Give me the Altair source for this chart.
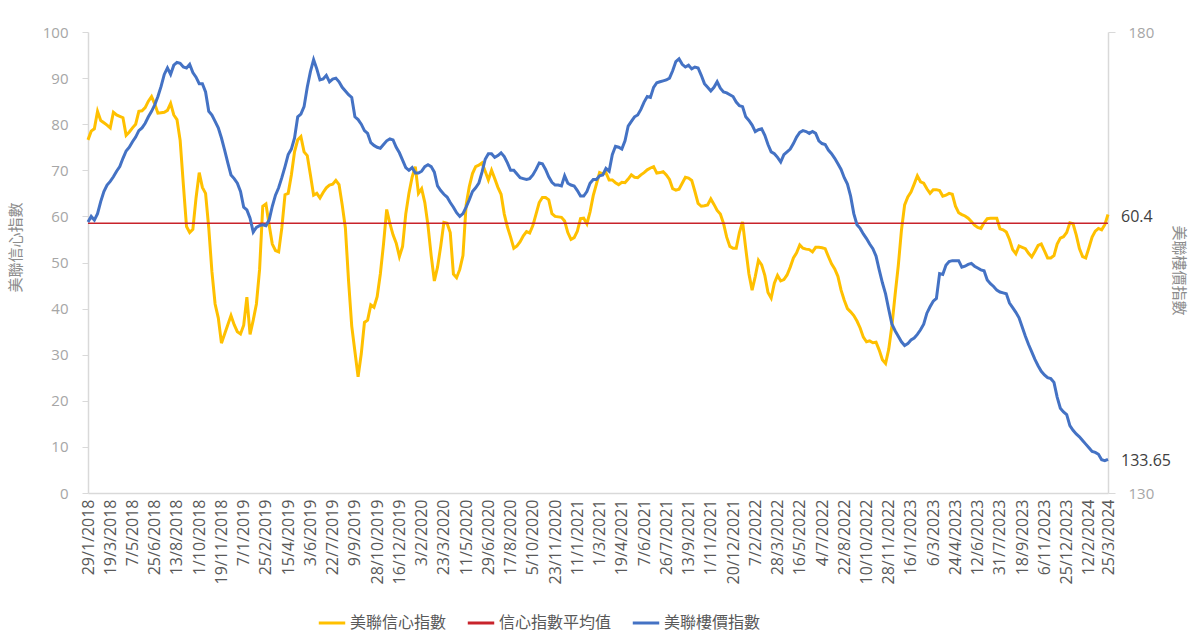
import altair as alt
import pandas as pd

FONT = "Open Sans, Noto Sans CJK TC, sans-serif"

# ---------------- data ----------------
START_DATE = "2018-01-29"  # weekly series

SERIES = ["美聯信心指數", "信心指數平均值", "美聯樓價指數"]
COLORS = ["#FFC000", "#C8232B", "#4472C4"]

AVG_CONFIDENCE = 58.5

confidence = [
    76.6, 78.5, 79.0, 82.8, 80.8, 80.3, 79.8,
    79.2, 82.6, 82.0, 81.7, 81.4, 77.6, 78.3,
    79.2, 80.0, 82.8, 82.9, 83.6, 85.0, 86.0,
    84.4, 82.4, 82.5, 82.6, 83.0, 84.5, 82.0,
    81.0, 76.5, 67.0, 57.8, 56.5, 57.2, 64.0,
    69.5, 66.3, 65.0, 57.5, 48.0, 41.0, 38.0,
    32.5, 34.5, 36.5, 38.5, 36.5, 35.0, 34.5,
    36.4, 42.5, 34.4, 37.5, 41.0, 48.5, 62.2,
    62.7, 58.2, 54.0, 52.6, 52.3, 57.5, 64.7,
    65.0, 69.0, 74.0, 76.6, 77.3, 74.0, 73.2,
    69.0, 64.6, 65.0, 64.0, 65.2, 66.2, 66.8,
    67.0, 67.8, 66.9, 62.5, 57.5, 46.0, 36.2,
    30.7, 25.2, 30.2, 37.0, 37.5, 40.8, 40.3,
    42.6, 47.5, 54.0, 61.5, 58.5, 56.0, 54.2,
    51.3, 53.5, 60.5, 65.0, 68.5, 70.8, 65.0,
    66.0, 63.0, 58.0, 51.5, 46.0, 49.0, 53.5,
    58.7, 58.5, 56.5, 47.5, 46.7, 48.5, 51.5,
    62.5, 66.5, 69.3, 70.8, 71.1, 71.6, 69.8,
    67.9, 70.0, 68.2, 66.3, 64.8, 60.5, 57.7,
    55.5, 53.1, 53.6, 54.5, 55.8, 56.7, 56.4,
    58.0, 60.5, 63.0, 64.1, 64.1, 63.6, 60.6,
    60.0, 59.9, 59.8, 59.0, 56.5, 55.0, 55.4,
    56.8, 59.5, 59.6, 58.4, 61.0, 64.5, 67.0,
    69.5, 69.2, 69.5, 67.9, 67.9, 67.3, 66.9,
    67.4, 67.3, 68.1, 69.0, 68.5, 68.4, 69.0,
    69.5, 70.1, 70.5, 70.8, 69.4, 69.5, 69.7,
    69.0, 68.0, 66.0, 65.7, 65.9, 67.2, 68.5,
    68.3, 67.8, 65.4, 62.8, 62.2, 62.3, 62.5,
    63.8, 62.6, 61.3, 60.5, 58.5, 55.5, 53.5,
    53.1, 53.1, 56.5, 58.8, 53.0, 47.5, 44.0,
    47.0, 50.5, 49.5, 47.2, 43.5, 42.3, 45.5,
    47.2, 46.0, 46.3, 47.3, 49.0, 51.0, 52.1,
    53.8, 53.1, 52.9, 52.8, 52.3, 53.3, 53.3,
    53.2, 53.0, 51.3, 49.7, 48.6, 47.0, 44.0,
    41.8, 40.0, 39.3, 38.5, 37.3, 35.8, 33.8,
    32.8, 33.0, 32.6, 32.7, 31.0, 28.9, 28.1,
    31.2, 36.3, 43.0, 49.3, 57.0, 62.5, 64.2,
    65.3, 67.0, 68.8, 67.5, 67.2, 66.0, 65.0,
    65.8, 65.8, 65.6, 64.4, 64.6, 65.0, 64.8,
    62.2, 60.8, 60.4, 60.1, 59.6, 58.9, 58.1,
    57.6, 57.4, 58.6, 59.5, 59.6, 59.6, 59.6,
    57.3, 57.1, 56.6, 55.0, 52.8, 51.9, 53.6,
    53.3, 53.0, 52.0, 51.2, 52.4, 53.7, 54.0,
    52.5, 51.0, 51.0, 51.5, 54.0, 55.3, 55.6,
    56.5, 58.6, 58.4, 56.0, 53.0, 51.3, 51.0,
    53.2, 55.5, 56.8, 57.4, 57.1, 58.2, 60.4,
]

price = [
    159.4, 160.0, 159.6, 160.3, 161.6, 162.7, 163.4,
    163.8, 164.3, 164.9, 165.4, 166.3, 167.1, 167.5,
    168.1, 168.6, 169.3, 169.6, 170.1, 170.8, 171.4,
    172.1, 173.0, 174.1, 175.4, 176.1, 175.4, 176.4,
    176.7, 176.6, 176.2, 176.1, 176.5, 175.6, 175.1,
    174.4, 174.4, 173.5, 171.4, 171.0, 170.3, 169.6,
    168.5, 167.2, 165.8, 164.5, 164.1, 163.6, 162.7,
    161.0, 160.7, 159.8, 158.3, 158.8, 159.0, 159.1,
    159.0, 159.6, 161.1, 162.3, 163.1, 164.2, 165.4,
    166.7, 167.3, 168.5, 170.8, 171.1, 171.9, 174.0,
    175.7, 177.0, 176.0, 174.8, 174.9, 175.3, 174.6,
    174.9, 175.0, 174.6, 174.0, 173.6, 173.2, 172.9,
    170.8, 170.5, 170.0, 169.3, 169.0, 168.0, 167.7,
    167.5, 167.4, 167.8, 168.2, 168.4, 168.3, 167.5,
    166.9, 166.1, 165.3, 165.0, 165.3, 164.7, 164.7,
    164.9, 165.4, 165.6, 165.4, 164.8, 163.3, 162.8,
    162.4, 162.1, 161.5, 161.0, 160.4, 160.0, 160.3,
    161.0, 161.8, 162.7, 163.1, 163.6, 164.8, 166.2,
    166.8, 166.8, 166.4, 166.6, 166.9, 166.5, 165.8,
    165.0, 165.0, 164.6, 164.2, 164.1, 164.0, 164.1,
    164.5, 165.1, 165.8, 165.7, 165.1, 164.3, 163.7,
    163.4, 163.4, 163.3, 164.4, 163.6, 163.4, 163.3,
    162.8, 162.2, 162.2, 162.7, 163.6, 164.0, 164.0,
    164.4, 164.5, 165.2, 164.9, 166.7, 167.6, 167.5,
    167.3, 168.2, 169.8, 170.3, 170.8, 171.0, 171.6,
    172.4, 173.0, 172.9, 174.0, 174.5, 174.6, 174.7,
    174.8, 175.0, 175.8, 176.8, 177.1, 176.5, 176.2,
    176.4, 176.0, 176.2, 176.1, 175.3, 174.4, 174.0,
    173.6, 174.0, 174.6, 173.9, 173.5, 173.4, 173.2,
    173.0, 172.4, 172.0, 171.9, 170.8, 170.4, 169.9,
    169.2, 169.4, 169.5, 168.8, 167.8, 167.0, 166.8,
    166.4, 165.9, 166.7, 167.0, 167.3, 167.9, 168.6,
    169.1, 169.3, 169.2, 169.0, 169.2, 169.0, 168.2,
    167.9, 167.8, 167.2, 166.8, 166.3, 165.7, 165.1,
    164.2, 163.5, 162.2, 160.3, 159.1, 158.7, 158.1,
    157.6, 157.0, 156.5, 155.7, 154.2, 152.8, 151.6,
    149.9, 148.3, 147.6, 147.0, 146.4, 146.0, 146.2,
    146.6, 146.8, 147.2, 147.7, 148.3, 149.5, 150.2,
    150.8, 151.1, 153.8, 153.7, 154.7, 155.1, 155.2,
    155.2, 155.2, 154.5, 154.6, 154.8, 154.9, 154.6,
    154.4, 154.2, 154.1, 153.1, 152.7, 152.4, 152.0,
    151.8, 151.7, 151.6, 150.6, 150.1, 149.6, 149.0,
    148.0, 147.0, 146.1, 145.3, 144.5, 143.8, 143.2,
    142.8, 142.5, 142.4, 142.0, 140.4, 139.2, 138.8,
    138.5, 137.3, 136.8, 136.4, 136.1, 135.7, 135.3,
    134.9, 134.5, 134.4, 134.2, 133.6, 133.5, 133.65,
]

tick_dates = [
    "2018-01-29", "2018-03-19", "2018-05-07", "2018-06-25", "2018-08-13",
    "2018-10-01", "2018-11-19", "2019-01-07", "2019-02-25", "2019-04-15",
    "2019-06-03", "2019-07-22", "2019-09-09", "2019-10-28", "2019-12-16",
    "2020-02-03", "2020-03-23", "2020-05-11", "2020-06-29", "2020-08-17",
    "2020-10-05", "2020-11-23", "2021-01-11", "2021-03-01", "2021-04-19",
    "2021-06-07", "2021-07-26", "2021-09-13", "2021-11-01", "2021-12-20",
    "2022-02-07", "2022-03-28", "2022-05-16", "2022-07-04", "2022-08-22",
    "2022-10-10", "2022-11-28", "2023-01-16", "2023-03-06", "2023-04-24",
    "2023-06-12", "2023-07-31", "2023-09-18", "2023-11-06", "2023-12-25",
    "2024-02-12", "2024-03-25",
]

conf_ticks = list(range(0, 101, 10))
price_ticks = [130, 180]
last_conf_label = "60.4"
last_price_label = "133.65"

# ---------------- frames ----------------
dates = pd.date_range(START_DATE, periods=len(confidence), freq="7D").strftime("%Y-%m-%d")
df_conf = pd.DataFrame({"date": dates, "value": confidence, "series": SERIES[0]})
df_price = pd.DataFrame({"date": dates, "value": price, "series": SERIES[2]})
df_avg = pd.DataFrame({"value": [AVG_CONFIDENCE], "series": [SERIES[1]]})
df_conf_last = df_conf.tail(1).assign(label=last_conf_label)
df_price_last = df_price.tail(1).assign(label=last_price_label)


def dt(s):
    y, m, d = (int(p) for p in s.split("-"))
    return alt.DateTime(year=y, month=m, date=d, utc=True)


x_enc = alt.X(
    "date:T",
    title=None,
    scale=alt.Scale(type="utc", domain=[dt(dates[0]), dt(dates[-1])], nice=False),
    axis=alt.Axis(
        values=[dt(s) for s in tick_dates],
        labelExpr="utcFormat(datum.value, '%-d/%-m/%Y')",
        labelAngle=-90,
        labelFont=FONT,
        labelFontSize=16,
        labelColor="#595959",
        labelPadding=6,
        labelOverlap=False,
        ticks=False,
        grid=False,
        domainColor="#d9d9d9",
        domainWidth=1.5,
    ),
)

y_left_axis = alt.Axis(
    values=conf_ticks,
    grid=False,
    tickSize=6,
    tickColor="#d9d9d9",
    domainColor="#d9d9d9",
    domainWidth=1.5,
    labelColor="#a6a6a6",
    labelFont=FONT,
    labelFontSize=15,
    labelPadding=14,
    title="美聯信心指數",
    titleFont=FONT,
    titleFontSize=15,
    titleFontWeight="normal",
    titleColor="#8c8c8c",
    titleX=-65,
    titleY=215,
)
y_left = alt.Y("value:Q", scale=alt.Scale(domain=[0, 100], nice=False, zero=False), axis=y_left_axis)

y_right_axis = alt.Axis(
    orient="right",
    values=price_ticks,
    grid=False,
    tickSize=7,
    tickColor="#d9d9d9",
    domainColor="#d9d9d9",
    domainWidth=1.5,
    labelColor="#a6a6a6",
    labelFont=FONT,
    labelFontSize=15,
    labelPadding=13,
    title="美聯樓價指數",
    titleFont=FONT,
    titleFontSize=15,
    titleFontWeight="normal",
    titleColor="#8c8c8c",
    titleX=62,
    titleY=238,
)
y_right = alt.Y("value:Q", scale=alt.Scale(domain=[130, 180], nice=False, zero=False), axis=y_right_axis)

color_enc = alt.Color(
    "series:N",
    scale=alt.Scale(domain=SERIES, range=COLORS),
    legend=alt.Legend(
        title=None,
        orient="none",
        direction="horizontal",
        legendX=229,
        legendY=576,
        symbolType="stroke",
        symbolStrokeWidth=3,
        symbolSize=700,
        labelFont=FONT,
        labelFontSize=16,
        labelColor="#595959",
        labelOffset=3,
        columnPadding=14,
    ),
)

conf_line = alt.Chart(df_conf).mark_line(strokeWidth=3).encode(x=x_enc, y=y_left, color=color_enc)
avg_rule = alt.Chart(df_avg).mark_rule(strokeWidth=1.5).encode(y=y_left, color=color_enc)
conf_text = alt.Chart(df_conf_last).mark_text(
    align="left", baseline="middle", dx=13, dy=2, font=FONT, fontSize=16, color="#404040"
).encode(x=x_enc, y=y_left, text="label:N")

price_line = alt.Chart(df_price).mark_line(strokeWidth=3).encode(x=x_enc, y=y_right, color=color_enc)
price_text = alt.Chart(df_price_last).mark_text(
    align="left", baseline="middle", dx=13, dy=2, font=FONT, fontSize=16, color="#404040"
).encode(x=x_enc, y=y_right, text="label:N")

left = alt.layer(conf_line, avg_rule, conf_text)
right = alt.layer(price_line, price_text)

chart = (
    alt.layer(left, right)
    .resolve_scale(y="independent")
    .properties(
        width=1020,
        height=461,
        autosize=alt.AutoSizeParams(type="none"),
        padding={"left": 88, "top": 32, "right": 92, "bottom": 148},
        background="white",
    )
    .configure_view(stroke=None)
)

chart.save("out.html", embed_options={"renderer": "svg", "actions": False})
